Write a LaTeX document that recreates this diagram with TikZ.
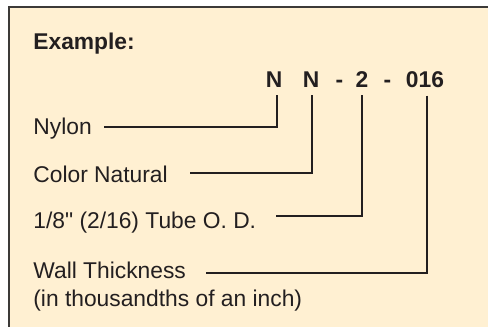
\documentclass[tikz,border=0pt]{standalone}
\usepackage{fontspec}
\setmainfont{Liberation Sans}
\usetikzlibrary{positioning}
\definecolor{tagpeach}{HTML}{FFF0D2}
\definecolor{inkblack}{HTML}{231F20}
\definecolor{frameline}{HTML}{3C3A38}

\begin{document}
\begin{tikzpicture}[x=0.5pt, y=-0.5pt,
    partlabel/.style={anchor=base west, inner sep=0pt, text=inkblack,
                      font=\fontsize{11.4}{14}\selectfont},
    codepart/.style={anchor=base, inner xsep=0pt, inner ysep=4pt, text=inkblack,
                     font=\fontsize{11.4}{14}\selectfont\bfseries},
    leader/.style={draw=inkblack, line width=1pt}
  ]
    \useasboundingbox (0,0) rectangle (488,327);
    \fill[tagpeach] (9,7) rectangle (488,327);
    \draw[frameline, line width=0.6pt] (9,327) -- (9,7) -- (488,7);

    \node[partlabel, font=\fontsize{11.4}{14}\selectfont\bfseries] (title) at (33,49) {Example:};

    % the part number, one node per field
    \node[codepart] (nylon) at (274,87) {N};
    \node[codepart] (natural) at (311,87) {N};
    \node[codepart] (dasha) at (339.5,87) {-};
    \node[codepart] (tubeod) at (362,87) {2};
    \node[codepart] (dashb) at (387.5,87) {-};
    \node[codepart] (wall) at (425,87) {016};

    % what each field means
    \node[partlabel] (lnylon) at (33,134) {Nylon};
    \node[partlabel] (lnatural) at (33,182) {Color Natural};
    \node[partlabel] (ltube) at (33,228) {1/8\textquotedbl{} (2/16) Tube O. D.};
    \node[partlabel] (lwall) at (33,278) {Wall Thickness};
    \node[partlabel] (lwallnote) at (33,306) {(in thousandths of an inch)};

    \coordinate (enylon) at (104,127.3);
    \coordinate (enatural) at (190,173.3);
    \coordinate (etube) at (276,216);
    \coordinate (ewall) at (206,272.7);

    \draw[leader] ([xshift=1.3pt]nylon.south) |- (enylon);
    \draw[leader] ([xshift=0.4pt]natural.south) |- (enatural);
    \draw[leader] (tubeod.south) |- (etube);
    \draw[leader] ([xshift=0.8pt]wall.south) |- (ewall);
  \end{tikzpicture}
\end{document}
